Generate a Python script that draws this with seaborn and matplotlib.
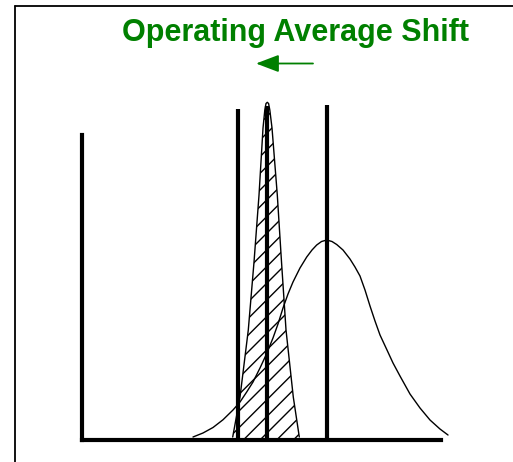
import matplotlib
matplotlib.use('Agg')
import matplotlib.pyplot as plt
from matplotlib.lines import Line2D
from matplotlib.patches import FancyArrowPatch
import seaborn as sns

sns.set_style('white')
plt.rcParams['font.family'] = ['Liberation Sans', 'DejaVu Sans']
plt.rcParams['hatch.linewidth'] = 1.0

## Data (arbitrary units)

# shifted, narrow distribution (hatched)
narrow_x = [42.0, 44.03, 46.33, 47.92, 49.31, 50.42, 50.92, 51.25, 51.61,
            51.97, 52.31, 52.92, 54.39, 55.56, 56.81, 58.83, 60.50]
narrow_y = [0.74, 12.6, 32.47, 52.64, 72.51, 92.38, 97.72, 99.64, 100.0,
            99.64, 97.72, 92.38, 72.51, 52.64, 32.47, 12.6, 0.74]

# original, wide distribution
wide_x = [30.97, 33.75, 36.53, 39.31, 42.08, 44.03, 45.89, 47.64, 49.58, 51.39,
          53.19, 54.58, 55.97, 57.36, 58.75, 60.69, 62.56, 64.03, 65.33, 66.67,
          68.11, 69.58, 70.89, 72.64, 74.58, 75.97, 77.36, 78.75, 80.14, 81.53,
          82.92, 84.86, 86.53, 88.47, 91.25, 94.03, 96.81, 99.58, 101.81]
wide_y = [0.74, 1.93, 3.56, 5.86, 8.75, 11.12, 14.09, 17.05, 21.20, 25.36,
          30.10, 34.25, 38.99, 43.15, 46.71, 50.86, 54.12, 56.20, 57.68, 58.72,
          59.16, 58.72, 57.83, 56.20, 53.53, 51.16, 48.49, 44.34, 39.59, 35.14,
          30.99, 26.54, 22.69, 18.83, 13.49, 9.34, 5.78, 3.11, 1.33]

# vertical marker lines
line_x = [43.47, 51.53, 68.19]
line_top = [98.0, 98.9, 99.2]

axis_top = 90.3

##########################################################################

fig = plt.figure(figsize=(5.13, 4.62), dpi=100)
ax = fig.add_axes([0.15887, 0.0487, 0.70175, 0.80281])

ax.fill_between(narrow_x, 0, narrow_y, facecolor='none', edgecolor='black',
                hatch='//', linewidth=0)
sns.lineplot(x=narrow_x, y=narrow_y, ax=ax, color='black', lw=1.0,
             estimator=None, sort=False)
sns.lineplot(x=wide_x, y=wide_y, ax=ax, color='black', lw=1.0,
             estimator=None, sort=False, clip_on=False)
ax.vlines(line_x, 0, line_top, colors='black', lw=3)

ax.set_xlim(0, 100)
ax.set_ylim(0, 110)
ax.set_xticks([])
ax.set_yticks([])
ax.spines['top'].set_visible(False)
ax.spines['right'].set_visible(False)
for s in ['left', 'bottom']:
    ax.spines[s].set_color('black')
    ax.spines[s].set_linewidth(3)
ax.spines['left'].set_bounds(0, axis_top)
ax.patch.set_alpha(0)

# outer frame (only top and left edges visible)
fig.add_artist(Line2D([15.3 / 513, 1], [1 - 6 / 462, 1 - 6 / 462],
                      transform=fig.transFigure, color='black', lw=1.3))
fig.add_artist(Line2D([15.3 / 513, 15.3 / 513], [1 - 6 / 462, 0],
                      transform=fig.transFigure, color='black', lw=1.3))

fig.text(0.576, 1 - 41.5 / 462, 'Operating Average Shift', color='#008000',
         fontsize=22, fontweight='bold', ha='center', va='baseline')

arrow = FancyArrowPatch((313 / 513, 1 - 63.5 / 462), (256 / 513, 1 - 63.5 / 462),
                        transform=fig.transFigure, color='#008000', lw=1.3,
                        arrowstyle='-|>,head_length=1.0,head_width=0.38',
                        mutation_scale=14, shrinkA=0, shrinkB=0)
fig.add_artist(arrow)

fig.savefig('out.png', dpi=100)
